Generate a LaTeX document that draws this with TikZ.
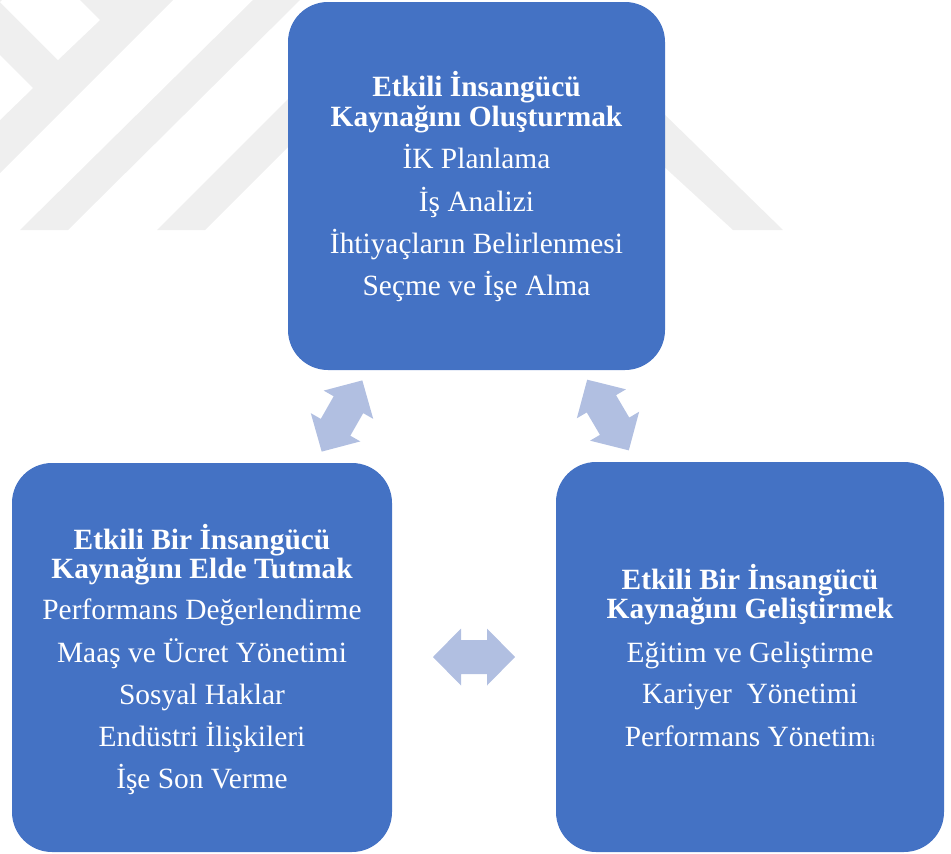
\documentclass[tikz,border=0pt]{standalone}
\usepackage{fontspec}
\setmainfont{Liberation Serif}
\definecolor{boxblue}{HTML}{4472C4}
\definecolor{arrowblue}{RGB}{177,191,225}
\definecolor{wmgray}{RGB}{239,239,239}
\tikzset{
  panel/.style={fill=boxblue, draw=none, rounded corners=40pt, inner sep=0pt},
  ttl/.style={text=white, font=\fontsize{29.4}{30}\selectfont\bfseries, anchor=base, inner sep=0pt},
  itm/.style={text=white, font=\fontsize{29.4}{30}\selectfont, anchor=base, inner sep=0pt},
  blockarrow/.style={fill=arrowblue, draw=none}
}
\newcommand{\dblarrowpath}{(-41,0) -- (-13,28.5) -- (-13,17) -- (13,17) -- (13,28.5) -- (41,0)
  -- (13,-28.5) -- (13,-17) -- (-13,-17) -- (-13,-28.5) -- cycle}
\begin{document}
\begin{tikzpicture}[x=1pt,y=-1pt]
\useasboundingbox (0,0) rectangle (951,854);
% faint watermark
\fill[wmgray] (0,0) -- (173,0) -- (0,173) -- cycle;
\fill[white] (0,2) -- (2,0) -- (80,0) -- (100,20) -- (58,60) -- cycle;
\fill[white] (0,55) -- (33,88) -- (0,120) -- cycle;
\fill[wmgray] (253,0) -- (300,0) -- (68,230) -- (20,230) -- cycle;
\fill[wmgray] (300,87) -- (300,135) -- (205,230) -- (157,230) -- cycle;
\fill[wmgray] (660,110) -- (783,230) -- (733,230) -- (660,163) -- cycle;
% panels
\node[panel, minimum width=377pt, minimum height=368pt] (top) at (476.5,186) {};
\node[panel, minimum width=380pt, minimum height=389pt] (left) at (202,657.5) {};
\node[panel, minimum width=388pt, minimum height=390pt] (right) at (750,657) {};
% top text
\node[ttl] (t1) at (476.5,96) {Etkili İnsangücü};
\node[ttl] (t2) at (476.5,126) {Kaynağını Oluşturmak};
\node[itm] (t3) at (476.5,168) {İK Planlama};
\node[itm] (t4) at (476.5,211) {İş Analizi};
\node[itm] (t5) at (476.5,253) {İhtiyaçların Belirlenmesi};
\node[itm] (t6) at (476.5,295) {Seçme ve İşe Alma};
% left text
\node[ttl] (l1) at (202,549) {Etkili Bir İnsangücü};
\node[ttl] (l2) at (202,578) {Kaynağını Elde Tutmak};
\node[itm] (l3) at (202,619) {Performans Değerlendirme};
\node[itm] (l4) at (202,662) {Maaş ve Ücret Yönetimi};
\node[itm] (l5) at (202,704) {Sosyal Haklar};
\node[itm] (l6) at (202,746) {Endüstri İlişkileri};
\node[itm] (l7) at (202,788) {İşe Son Verme};
% right text
\node[ttl] (r1) at (750,589) {Etkili Bir İnsangücü};
\node[ttl] (r2) at (750,618) {Kaynağını Geliştirmek};
\node[itm] (r3) at (750,662) {Eğitim ve Geliştirme};
\node[itm] (r4) at (750,703) {Kariyer\ \ Yönetimi};
\node[itm] (r5) at (750,746) {Performans Yönetim{\fontsize{17}{17}\selectfont i}};
% block arrows
\coordinate (a1) at (342,416);
\coordinate (a2) at (608,415);
\coordinate (a3) at (474,657);
\fill[blockarrow, shift={(a1)}, rotate=60.3] \dblarrowpath;
\fill[blockarrow, shift={(a2)}, rotate=-59.5] \dblarrowpath;
\fill[blockarrow, shift={(a3)}] \dblarrowpath;
\end{tikzpicture}
\end{document}
